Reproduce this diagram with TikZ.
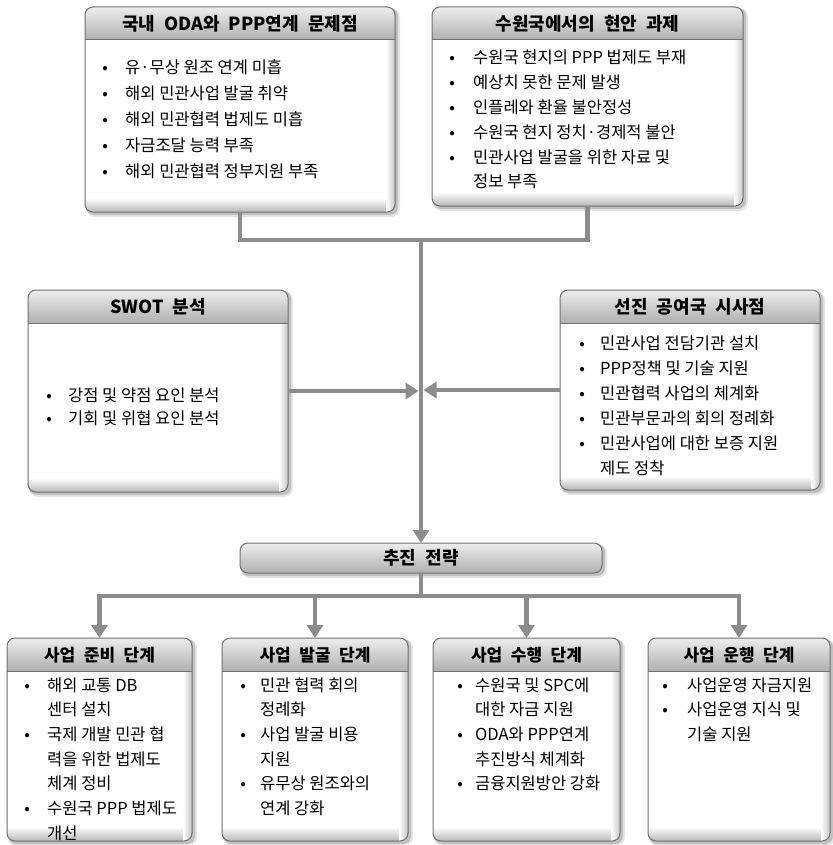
\documentclass[tikz,border=0pt]{standalone}
\usepackage{fontspec}
\setmainfont{Noto Sans CJK KR}
\usetikzlibrary{arrows.meta}

\definecolor{linkgray}{HTML}{8C8C8C}
\definecolor{framegray}{HTML}{707070}
\definecolor{headtop}{HTML}{EDEDED}
\definecolor{headbot}{HTML}{B0B0B0}

\tikzset{
  conn/.style={draw=linkgray, line width=4.5pt},
  tip/.style={-{Triangle[width=16pt,length=13pt]}},
  frame/.style={draw=framegray, line width=1pt, rounded corners=8pt},
  anchorbox/.style={rectangle, inner sep=0pt, outer sep=0pt, draw=none},
  headtxt/.style={font={\fontsize{18pt}{21pt}\selectfont\bfseries\spaceskip=0.5em\relax}, inner sep=0pt},
  itemtxt/.style={inner sep=0pt},
}

% bullet centred on the start of its column
\newcommand\bul{\makebox[0pt]{•}}
% slightly smaller title for the stage panels
\newcommand\stagetitle[1]{{\fontsize{17pt}{20pt}\selectfont\bfseries\spaceskip=0.5em\relax #1}}

% #1 name, #2 x1, #3 y1, #4 x2, #5 y2, #6 title
\newcommand\panel[6]{%
  \fill[black, opacity=0.10, rounded corners=9pt] (#2+1,#3+1) rectangle (#4+5,#5+5);
  \fill[black, opacity=0.16, rounded corners=8pt] (#2+1,#3+1) rectangle (#4+3,#5+3);
  \node[anchorbox, minimum width={(#4-#2)*1pt}, minimum height={(#5-#3)*1pt}] (#1) at ({(#2+#4)/2},{(#3+#5)/2}) {};
  \begin{scope}
    \clip[rounded corners=8pt] (#2,#3) rectangle (#4,#5);
    \fill[white] (#2,#3) rectangle (#4,#5);
    \shade[top color=white, bottom color=black!28] (#2,#5-14) rectangle (#4,#5);
    \shade[left color=white, right color=black!22] (#4-9,#3) rectangle (#4,#5);
    \shade[top color=headtop, bottom color=headbot] (#2,#3) rectangle (#4,#3+33);
    \draw[framegray, line width=1pt] (#2,#3+33) -- (#4,#3+33);
  \end{scope}
  \draw[frame] (#2,#3) rectangle (#4,#5);
  \node[headtxt] (#1-title) at ({(#2+#4)/2},#3+17) {#6};
}

% #1 name, #2 bullet x, #3 text x, #4 first baseline y, #5 line pitch, #6 rows
\newcommand\itemlist[6]{%
  \node[itemtxt, anchor=base west] (#1) at (#2,#4)
    {\fontsize{16.5pt}{#5pt}\selectfont
     \begin{tabular}[t]{@{}p{\dimexpr#3pt-#2pt\relax}@{}l@{}}#6\end{tabular}};}

\begin{document}
\begin{tikzpicture}[x=1pt, y=-1pt]
  \useasboundingbox (0,0) rectangle (832,845);
  \fill[white] (0,0) rectangle (832,845);

  \coordinate (join) at (421,240);
  \coordinate (bus) at (421,596);

  % ---- upper panels ----
  \panel{tl}{85}{7}{395}{212}{국내 ODA와 PPP연계 문제점}
  \itemlist{tl-list}{105}{125}{74}{26}{%
    \bul & 유·무상 원조 연계 미흡\\
    \bul & 해외 민관사업 발굴 취약\\
    \bul & 해외 민관협력 법제도 미흡\\
    \bul & 자금조달 능력 부족\\
    \bul & 해외 민관협력 정부지원 부족}

  \panel{tr}{432}{7}{743}{206}{수원국에서의 현안 과제}
  \itemlist{tr-list}{452}{473}{64}{24.8}{%
    \bul & 수원국 현지의 PPP 법제도 부재\\
    \bul & 예상치 못한 문제 발생\\
    \bul & 인플레와 환율 불안정성\\
    \bul & 수원국 현지 정치·경제적 불안\\
    \bul & 민관사업 발굴을 위한 자료 및\\
         & 정보 부족}

  % ---- middle panels ----
  \panel{sw}{28}{290}{288}{492}{SWOT 분석}
  \itemlist{sw-list}{49}{68}{401}{23.5}{%
    \bul & 강점 및 약점 요인 분석\\
    \bul & 기회 및 위협 요인 분석}

  \panel{lr}{560}{290}{820}{490}{선진 공여국 시사점}
  \itemlist{lr-list}{582}{600}{349}{25}{%
    \bul & 민관사업 전담기관 설치\\
    \bul & PPP정책 및 기술 지원\\
    \bul & 민관협력 사업의 체계화\\
    \bul & 민관부문과의 회의 정례화\\
    \bul & 민관사업에 대한 보증 지원\\
         & 제도 정착}

  % ---- strategy bar ----
  \fill[black, opacity=0.10, rounded corners=9pt] (241,544) rectangle (607,578);
  \fill[black, opacity=0.16, rounded corners=8pt] (241,544) rectangle (605,576);
  \node[anchorbox, minimum width=362pt, minimum height=30pt] (st) at (421,558) {};
  \shade[top color=headtop, bottom color=headbot, draw=framegray, line width=1pt, rounded corners=8pt]
    (240,543) rectangle (602,573);
  \node[headtxt] (st-title) at (421,558) {추진 전략};

  % ---- stage panels ----
  \panel{p1}{7}{638}{192}{841}{\stagetitle{사업 준비 단계}}
  \itemlist{p1-list}{27}{47}{691}{24.7}{%
    \bul & 해외 교통 DB\\
         & 센터 설치\\
    \bul & 국제 개발 민관 협\\
         & 력을 위한 법제도\\
         & 체계 정비\\
    \bul & 수원국 PPP 법제도\\
         & 개선}

  \panel{p2}{222}{638}{408}{841}{\stagetitle{사업 발굴 단계}}
  \itemlist{p2-list}{243}{260}{691}{24.7}{%
    \bul & 민관 협력 회의\\
         & 정례화\\
    \bul & 사업 발굴 비용\\
         & 지원\\
    \bul & 유무상 원조와의\\
         & 연계 강화}

  \panel{p3}{433}{638}{620}{841}{\stagetitle{사업 수행 단계}}
  \itemlist{p3-list}{460}{475}{691}{24.7}{%
    \bul & 수원국 및 SPC에\\
         & 대한 자금 지원\\
    \bul & ODA와 PPP연계\\
         & 추진방식 체계화\\
    \bul & 금융지원방안 강화}

  \panel{p4}{648}{638}{830}{841}{\stagetitle{사업 운행 단계}}
  \itemlist{p4-list}{665}{687}{691}{24.7}{%
    \bul & 사업운영 자금지원\\
    \bul & 사업운영 지식 및\\
         & 기술 지원}

  % ---- connectors ----
  \draw[conn] (tl.south) |- (join);
  \draw[conn] (tr.south) |- (join);
  \draw[conn, tip] (join) -- (st.north);
  \draw[conn, tip, shorten >=2.5pt] (sw.east) -- (sw.east -| join);
  \draw[conn, tip, shorten >=2.5pt] (lr.west) -- (lr.west -| join);
  \draw[conn] (st.south) -- (bus);
  \draw[conn, tip] (bus) -| (p1.north);
  \draw[conn, tip] (bus) -| (p2.north);
  \draw[conn, tip] (bus) -| (p3.north);
  \draw[conn, tip] (bus) -| (p4.north);
\end{tikzpicture}
\end{document}
